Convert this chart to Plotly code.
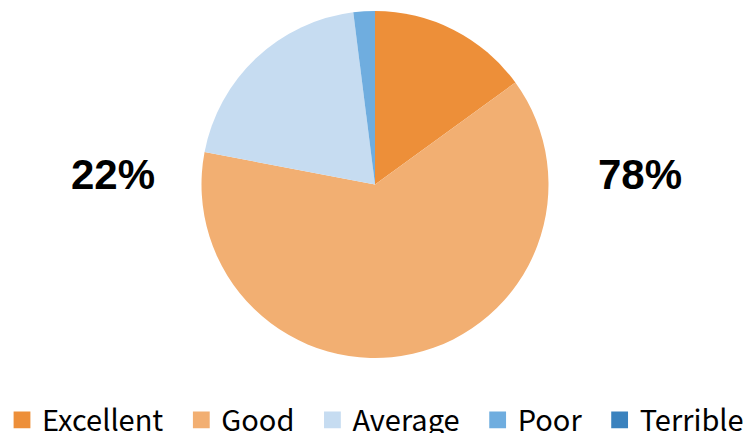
import plotly.graph_objects as go

categories = ["Excellent", "Good", "Average", "Poor", "Terrible"]
values = [15, 63, 20, 2, 0]
colors = ["#ED8F39", "#F2AF72", "#C6DCF1", "#6FADDF", "#3A82BE"]
group_labels = ["22%", "78%"]

W, H = 749, 433

# trailing non-breaking spaces widen the gap between legend entries
legend_labels = [c + ("\u00a0\u00a0" if i < len(categories) - 1 else "") for i, c in enumerate(categories)]

fig = go.Figure(go.Pie(
    labels=legend_labels, values=values, sort=False, direction="clockwise", rotation=0,
    marker=dict(colors=colors, line=dict(width=0)),
    textinfo="none", hoverinfo="label+percent",
    domain=dict(x=[201.5 / W, 548.5 / W], y=[1 - 358 / H, 1 - 11 / H]),
))

for lbl, xc in zip(group_labels, [113, 640]):
    fig.add_annotation(x=xc / W, y=1 - 175 / H, xref="paper", yref="paper",
                       xanchor="center", yanchor="middle", text="<b>%s</b>" % lbl,
                       showarrow=False, font=dict(family="Liberation Sans", size=42, color="#000"))

fig.update_layout(
    width=W, height=H,
    margin=dict(l=0, r=0, t=0, b=0, autoexpand=False),
    paper_bgcolor="white",
    showlegend=True,
    legend=dict(orientation="h", x=2 / W, xanchor="left", y=0.089, yanchor="top",
                font=dict(family="Noto Sans CJK JP", size=29, color="#000"),
                traceorder="normal"),
)

post = """
document.body.style.margin='0px';
document.querySelectorAll('.legendpie').forEach(function(p){
  var t = p.getAttribute('transform') || '';
  p.setAttribute('transform', t + ' scale(1.4)');
});
"""
fig.write_html("out.html", post_script=post, config={"displayModeBar": False})
